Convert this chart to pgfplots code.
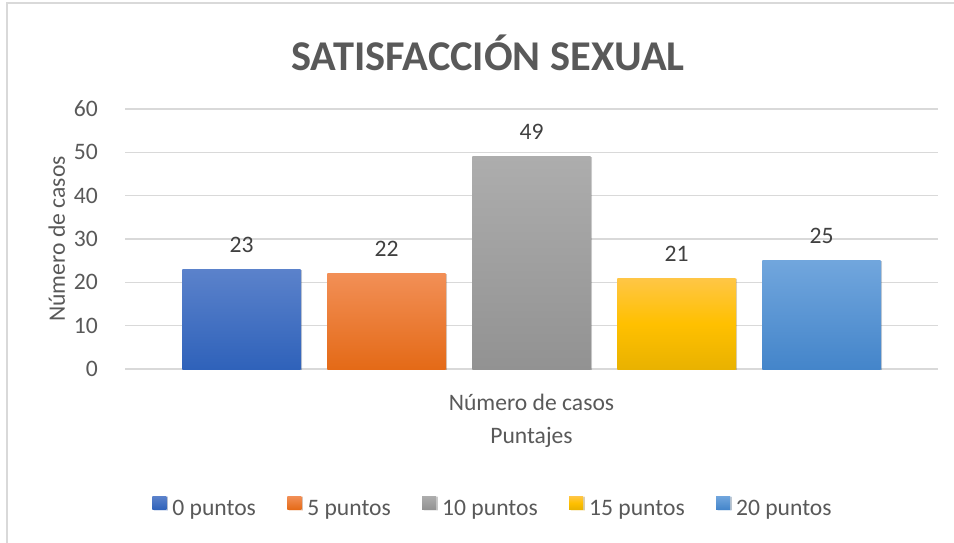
\documentclass[border=0pt]{standalone}
\usepackage{fontspec}
\setmainfont{Carlito}
\usepackage{pgfplots}
\pgfplotsset{compat=1.18}
\usetikzlibrary{shadows}

\definecolor{gridc}{HTML}{D9D9D9}
\definecolor{txt}{HTML}{595959}
\definecolor{lbl}{HTML}{404040}
\definecolor{b1t}{HTML}{5B82CB}\definecolor{b1b}{HTML}{2F62BA}
\definecolor{b2t}{HTML}{F28F56}\definecolor{b2b}{HTML}{E46A17}
\definecolor{b3t}{HTML}{ADADAD}\definecolor{b3b}{HTML}{929292}
\definecolor{b4t}{HTML}{FFC646}\definecolor{b4m}{HTML}{FFC000}\definecolor{b4b}{HTML}{E9B200}
\definecolor{b5t}{HTML}{71A6DD}\definecolor{b5b}{HTML}{4485CA}

\pgfplotsset{
  sq/.style={legend image code/.code={%
    \path[##1,/tikz/.cd,draw=none] (0pt,-0.2pt) rectangle (10.5pt,9.8pt);}},
  bar/.style={ybar, bar width=0.814, bar shift=0pt, draw=none},
  shd/.style={drop shadow={shadow xshift=1.2pt, shadow yshift=-0.6pt, opacity=0.18, fill=black}},
}

\begin{document}
\begin{tikzpicture}
\path[use as bounding box] (0,0) rectangle (715.5pt,-407.25pt);
\draw[gridc, line width=1.1pt] (5.25pt,-407.25pt) -- (5.25pt,-2.25pt) -- (715.5pt,-2.25pt);
\node[txt, font=\fontsize{31.8}{36}\selectfont\bfseries, anchor=base, inner sep=0pt]
  at (366pt,-52.5pt) {SATISFACCIÓN SEXUAL};

\begin{axis}[
  at={(93.75pt,-276.75pt)}, anchor=south west,
  scale only axis, width=609.75pt, height=195pt,
  xmin=0.1966, xmax=5.8034, ymin=0, ymax=60,
  ytick={0,10,...,60}, xtick={3}, xticklabels={Número de casos},
  ymajorgrids, grid style={gridc, line width=1.1pt},
  axis x line=bottom, axis y line=left,
  x axis line style={gridc, line width=1.1pt, -},
  y axis line style={draw=none},
  major tick style={draw=none},
  /pgf/number format/assume math mode=true,
  ticklabel style={txt, font=\fontsize{17.7}{21}\selectfont},
  yticklabel style={anchor=east, inner sep=0pt, xshift=-18pt},
  xticklabel style={anchor=base, inner sep=0pt, yshift=-29.25pt},
  xlabel={Puntajes}, ylabel={Número de casos},
  label style={txt, font=\fontsize{17.7}{21}\selectfont, inner sep=0pt},
  xlabel style={at={(axis description cs:0.5,-0.2846)}, anchor=base},
  ylabel style={at={(axis description cs:-0.0738,0.5)}, anchor=base},
  nodes near coords,
  every node near coord/.append style={lbl, font=\fontsize{17.7}{21}\selectfont,
    anchor=base, inner sep=0pt, yshift=12.75pt},
  legend columns=5,
  legend style={at={(0.4514,-0.5308)}, anchor=center, draw=none, fill=none,
    font=\fontsize{17.7}{21}\selectfont, text=txt,
    nodes={inner sep=0pt},
    /tikz/every odd column/.append style={column sep=4.5pt},
    /tikz/every even column/.append style={column sep=23.5pt}},
  legend cell align=left,
]
\addplot[bar, shd, top color=b1t, bottom color=b1b, sq] coordinates {(1,23)};
\addlegendentry{0 puntos}
\addplot[bar, shd, top color=b2t, bottom color=b2b, sq] coordinates {(2,22)};
\addlegendentry{5 puntos}
\addplot[bar, shd, top color=b3t, bottom color=b3b, sq] coordinates {(3,49)};
\addlegendentry{10 puntos}
\addplot[bar, shd, top color=b4t, bottom color=b4b, middle color=b4m, sq] coordinates {(4,21)};
\addlegendentry{15 puntos}
\addplot[bar, shd, top color=b5t, bottom color=b5b, sq] coordinates {(5,25)};
\addlegendentry{20 puntos}
\end{axis}
\end{tikzpicture}
\end{document}
